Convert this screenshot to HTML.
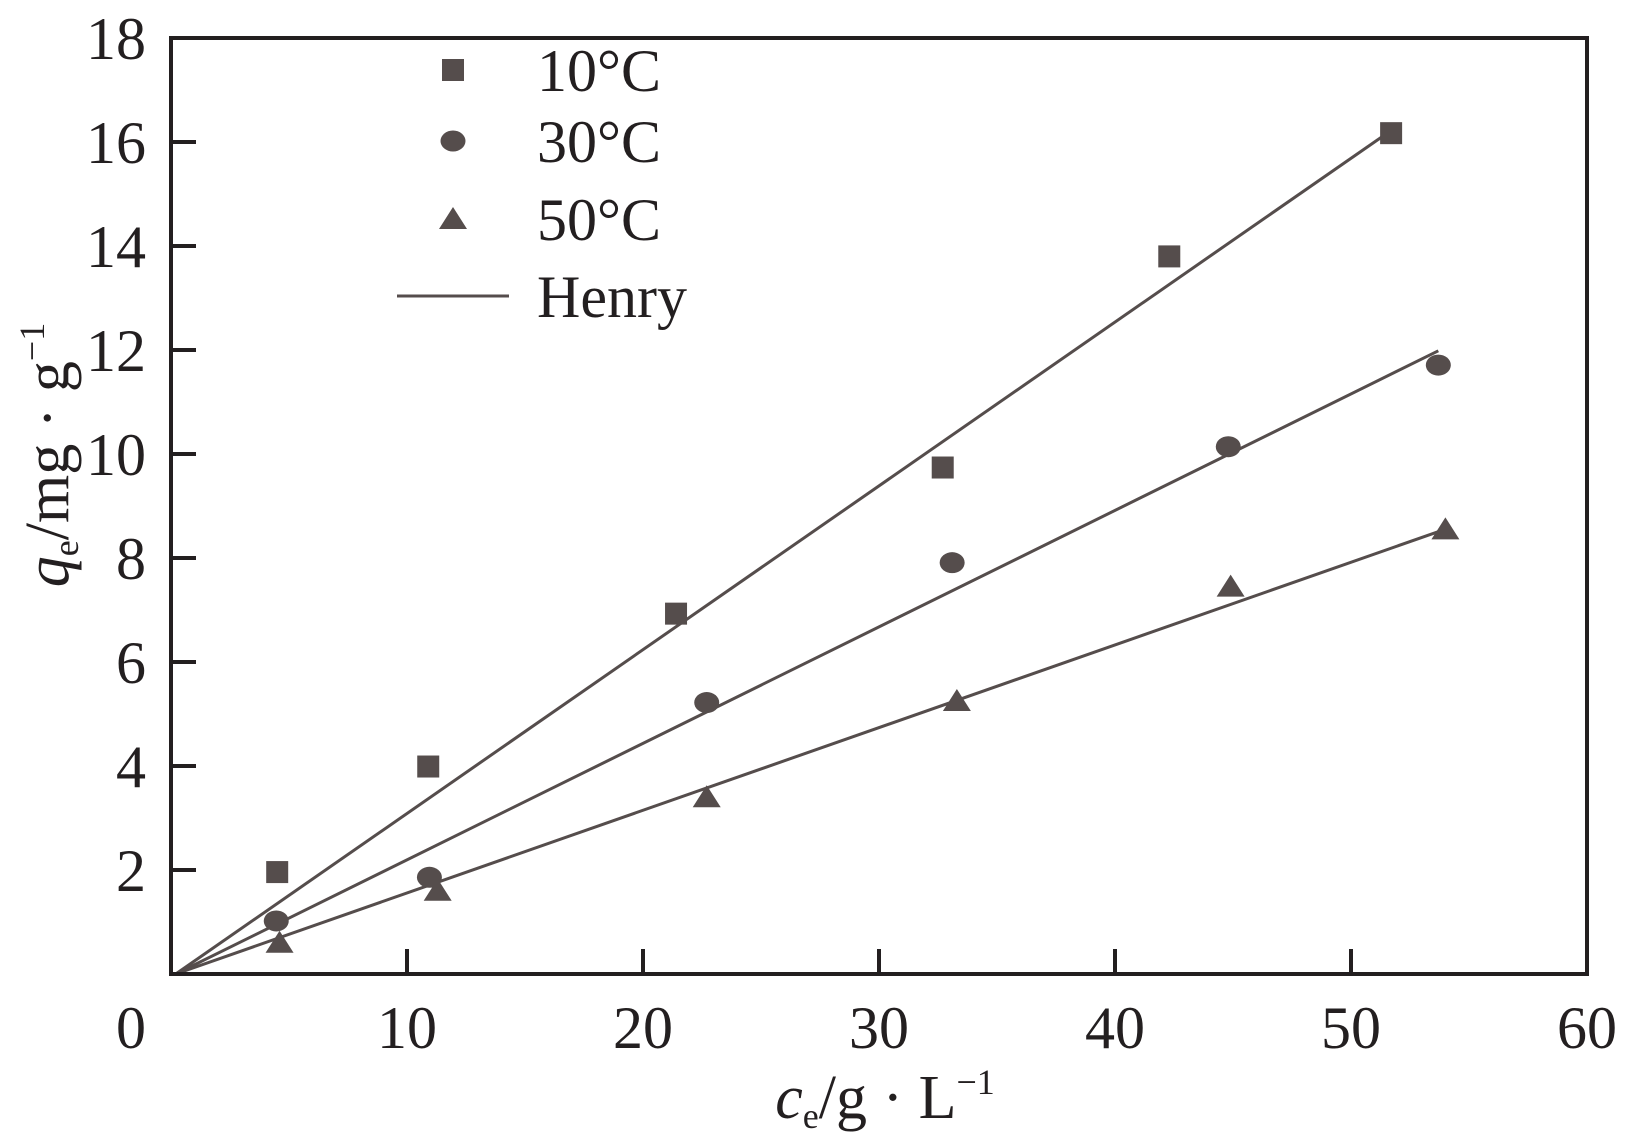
<!DOCTYPE html>
<html><head><meta charset="utf-8"><style>
body{margin:0;background:#fff}
svg{display:block}
text{font-family:"Liberation Serif",serif;fill:#231f20}
</style></head><body>
<svg width="1632" height="1134" viewBox="0 0 1632 1134">
<g id="plot"></g>
</svg>
<script>
const xTicks=[0,10,20,30,40,50,60];
const yTicks=[2,4,6,8,10,12,14,16,18];
const seriesNames=["10°C","30°C","50°C"];
const x10=[4.5,10.9,21.4,32.7,42.3,51.7];
const y10=[1.96,3.99,6.93,9.74,13.8,16.17];
const x30=[4.46,10.95,22.7,33.1,44.8,53.7];
const y30=[1.02,1.86,5.22,7.91,10.14,11.71];
const x50=[4.6,11.3,22.7,33.3,44.9,54.0];
const y50=[0.6,1.6,3.4,5.25,7.45,8.55];
const slopes=[0.315,0.224,0.159];
const fitEnd=[51.5,53.7,53.7];
const NS="http://www.w3.org/2000/svg";
const g=document.getElementById('plot');
const X0=171,XS=23.6,Y0=974,YS=52;
const sx=v=>X0+v*XS, sy=v=>Y0-v*YS;
function el(t,a){const e=document.createElementNS(NS,t);for(const k in a)e.setAttribute(k,a[k]);g.appendChild(e);return e;}
const col="#554d4c";
slopes.forEach((s,i)=>{const l=el('line',{x1:sx(0.2),y1:sy(0),x2:sx(fitEnd[i]),y2:sy(s*(fitEnd[i]-0.2)),stroke:col,'stroke-width':3});

});
function square(x,y,n){const e=el('rect',{x:x-11,y:y-11,width:22,height:22,fill:col});}
function circle(x,y,n){const e=el('ellipse',{cx:x,cy:y,rx:12.5,ry:10.5,fill:col});}
function tri(x,y,n){const e=el('polygon',{points:`${x},${y-12} ${x-14},${y+10} ${x+14},${y+10}`,fill:col});}
x10.forEach((v,i)=>square(sx(v),sy(y10[i]),'point-10c'));
x30.forEach((v,i)=>circle(sx(v),sy(y30[i]),'point-30c'));
x50.forEach((v,i)=>tri(sx(v),sy(y50[i]),'point-50c'));
const fr=el('rect',{x:X0,y:sy(18),width:sx(60)-X0,height:Y0-sy(18),fill:'none',stroke:'#231f20','stroke-width':4});


xTicks.forEach(v=>{if(v>0&&v<60){const t=el('line',{x1:sx(v),y1:Y0,x2:sx(v),y2:Y0-25,stroke:'#231f20','stroke-width':4});}
const tx=el('text',{x:sx(v)-(v==0?40:0),y:1048,'font-size':60,'text-anchor':'middle'});tx.textContent=v;

});
yTicks.forEach(v=>{if(v<18){const t=el('line',{x1:X0,y1:sy(v),x2:X0+25,y2:sy(v),stroke:'#231f20','stroke-width':4});}
const tx=el('text',{x:146,y:sy(v)+21,'font-size':60,'text-anchor':'end'});tx.textContent=v;

});
square(453,70,'legend-marker-10c');circle(453,141,'legend-marker-30c');tri(453,219,'legend-marker-50c');
const hl=el('line',{x1:397,y1:296,x2:509,y2:296,stroke:col,'stroke-width':3});


[...seriesNames,"Henry"].forEach((s,i)=>{const t=el('text',{x:537,y:[91,162,240,317][i],'font-size':60});t.textContent=s;

});
</script>
<svg style="position:absolute;left:0;top:0" width="1632" height="1134">
<text x="885" y="1118" font-size="62" text-anchor="middle"><tspan font-style="italic">c</tspan><tspan font-size="36" dy="10">e</tspan><tspan dy="-10">/g · L</tspan><tspan font-size="36" dy="-24">−1</tspan></text>
<text transform="translate(68,455) rotate(-90)" font-size="62" text-anchor="middle"><tspan font-style="italic">q</tspan><tspan font-size="36" dy="10">e</tspan><tspan dy="-10">/mg · g</tspan><tspan font-size="36" dy="-24">−1</tspan></text>
</svg>
</body></html>
